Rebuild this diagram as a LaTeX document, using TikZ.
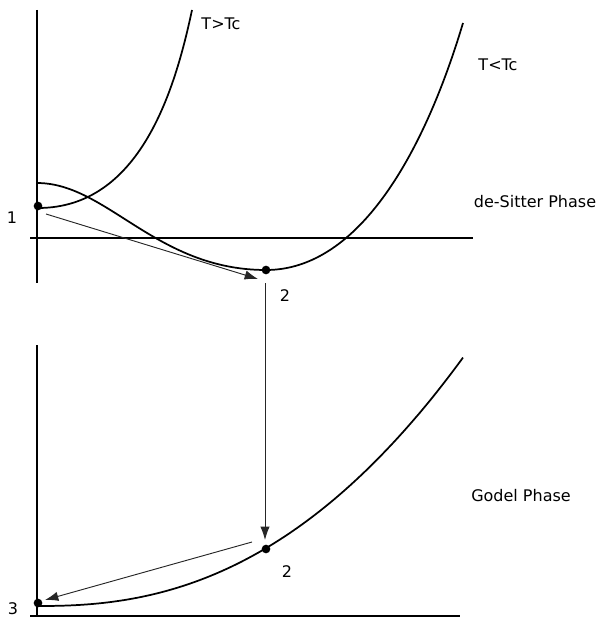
\documentclass[tikz,border=0pt]{standalone}
\usepackage{fontspec}
\setmainfont{DejaVu Sans}
\usetikzlibrary{arrows.meta, positioning, calc}

\begin{document}
\begin{tikzpicture}[x=0.75pt, y=-0.75pt, >={Latex[length=10pt, width=7pt]},
    eje/.style={line width=1.4pt},
    curva/.style={line width=1.3pt},
    flecha/.style={->, line width=0.7pt, black!85},
    punto/.style={circle, fill=black, inner sep=0pt, minimum size=6.5pt},
    etiq/.style={font=\fontsize{12}{14}\selectfont}]

    \useasboundingbox (0,0) rectangle (600,617);

    % --- FASE DE SITTER (arriba) ---
    % Ejes
    \draw[eje] (37,10) -- (37,283);
    \draw[eje] (30,238) -- (473,238);

    % Potencial T>Tc
    \draw[curva] (38,208) .. controls (140,208) and (175,90) .. (192,10);

    % Potencial T<Tc (maximo en 0, minimo en el punto 2)
    \draw[curva] (37,183) .. controls (107,183) and (156,270) .. (266,270)
                 .. controls (360,270) and (425,150) .. (463,23);

    % Puntos 1 y 2
    \node[punto] (uno) at (38,206) {};
    \node[punto] (dosA) at (266,270) {};

    % --- FASE DE GODEL (abajo) ---
    % Ejes
    \draw[eje] (37,345) -- (37,616);
    \draw[eje] (30,616) -- (460,616);

    % Potencial
    \draw[curva, domain=0:425, samples=80, variable=\u]
    plot ({\u + 38}, {606 - 8.41*pow(\u/100, 2.34)});

    % Puntos 2 y 3
    \node[punto] (dosB) at (266,549) {};
    \node[punto] (tres) at (38,603) {};

    % --- TRANSICIONES ---
    \coordinate (a1) at ($(uno) + (8,8)$);
    \coordinate (b1) at ($(dosA) + (-8,9)$);
    \coordinate (a2) at ($(dosA) + (-1,13)$);
    \coordinate (b2) at ($(dosB) + (-1,-9)$);
    \coordinate (a3) at ($(dosB) + (-14,-7)$);
    \coordinate (b3) at ($(tres) + (7,-3)$);
    \draw[flecha] (a1) -- (b1);
    \draw[flecha] (a2) -- (b2);
    \draw[flecha] (a3) -- (b3);

    % --- ETIQUETAS ---
    \node[etiq] (tmayor) at (221,24) {T>Tc};
    \node[etiq] (tmenor) at (498,65) {T<Tc};
    \node[etiq] (fasedS) at (535,202) {de-Sitter Phase};
    \node[etiq] (faseG) at (521,496) {Godel Phase};
    \node[etiq] (l1) at (12,218) {1};
    \node[etiq] (l2a) at (285,296) {2};
    \node[etiq] (l2b) at (287,572) {2};
    \node[etiq] (l3) at (13,609) {3};

\end{tikzpicture}
\end{document}
